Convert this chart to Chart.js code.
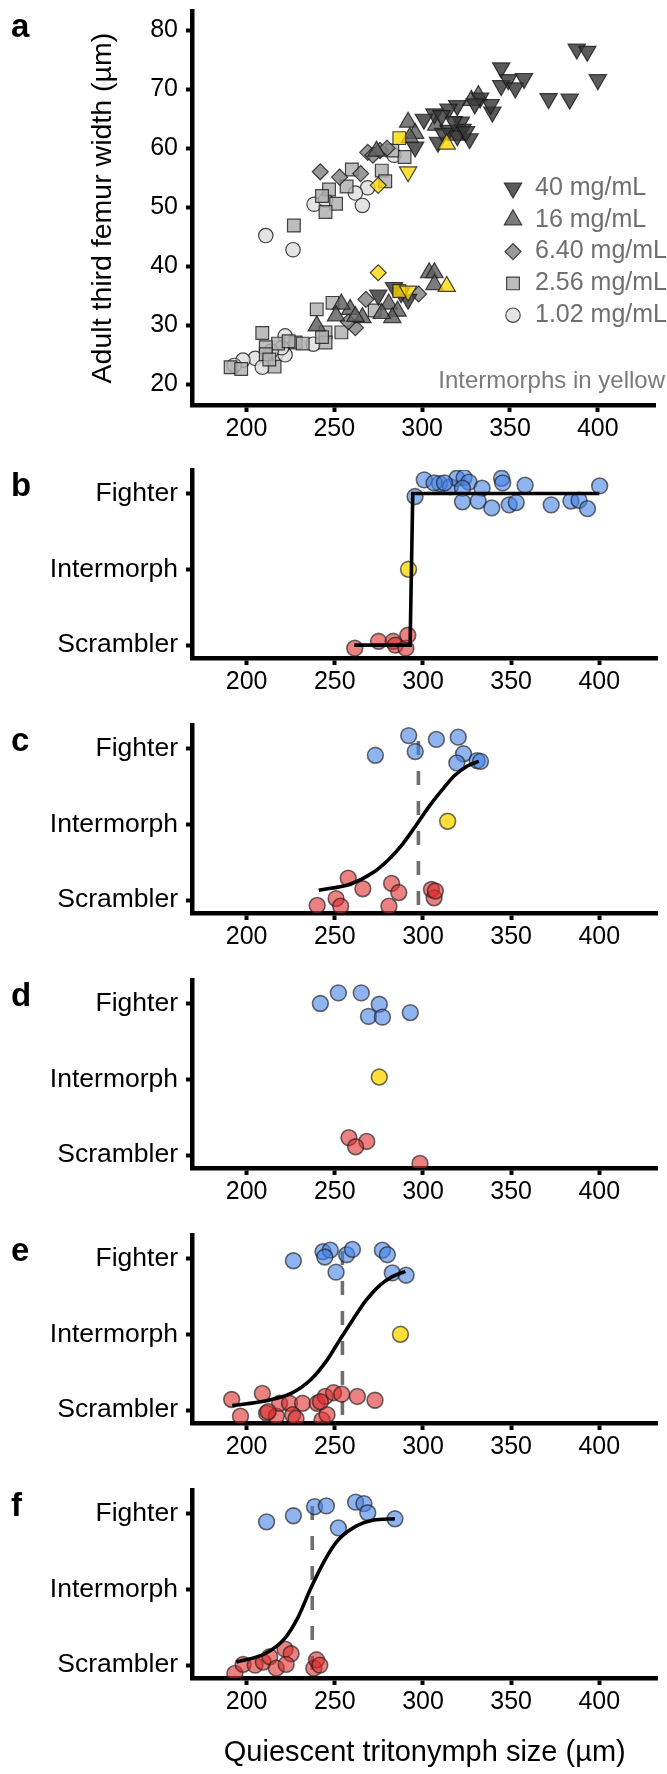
<!DOCTYPE html>
<html>
<head>
<meta charset="utf-8">
<script src="https://cdn.jsdelivr.net/npm/chart.js@4/dist/chart.umd.min.js"></script>
<style>
  html, body { margin: 0; padding: 0; background: #fff; }
  #wrap { position: relative; width: 667px; height: 1774px; overflow: hidden; }
  .panel { position: absolute; left: 0; width: 667px; }
</style>
</head>
<body>
<div id="wrap">
  <div class="panel" style="top:0;height:440px"><canvas id="chartA"></canvas></div>
  <div class="panel" style="top:440px;height:255px"><canvas id="chartB"></canvas></div>
  <div class="panel" style="top:695px;height:255px"><canvas id="chartC"></canvas></div>
  <div class="panel" style="top:950px;height:255px"><canvas id="chartD"></canvas></div>
  <div class="panel" style="top:1205px;height:255px"><canvas id="chartE"></canvas></div>
  <div class="panel" style="top:1460px;height:314px"><canvas id="chartF"></canvas></div>
</div>
<script>
// shared axis
const X_MIN = 169, X_MAX = 433;
const X_TICKS = [200, 250, 300, 350, 400];
const X_TITLE = "Quiescent tritonymph size (µm)";

// panel a - femur width vs tritonymph size, by food concentration
const A_Y_TICKS = [20, 30, 40, 50, 60, 70, 80];
const A_Y_TITLE = "Adult third femur width (µm)";
const concLabels = ["40 mg/mL", "16 mg/mL", "6.40 mg/mL", "2.56 mg/mL", "1.02 mg/mL"];
const noteText = "Intermorphs in yellow";

const c40X = [388, 394, 400, 372, 384, 345, 345, 349, 353, 358, 340, 339, 320, 315, 307, 301, 322, 323, 315, 327, 320, 309, 296, 333, 330, 318, 312, 325, 311, 275, 284, 292, 288];
const c40Y = [76.8, 76.4, 71.6, 68.4, 68.3, 73.6, 70.6, 71.6, 70.2, 71.8, 66.1, 67.4, 67.2, 66.6, 65.8, 64.9, 64.4, 63.2, 63.0, 61.6, 62.1, 61.0, 60.2, 68.5, 67.5, 64.5, 62.5, 62.8, 65.5, 35.1, 36.4, 34.4, 35.5];
const c16X = [292, 296, 308, 332, 328, 319, 293, 274, 304, 307, 307, 281, 286, 283, 266, 259, 254, 251, 240, 277, 262];
const c16Y = [64.4, 62.5, 63.9, 68.9, 68.1, 62.2, 61.8, 59.5, 38.9, 38.9, 36.9, 33.6, 32.4, 31.3, 31.3, 32.7, 33.6, 31.6, 29.9, 32.0, 31.5];
const c6X = [242, 253, 265, 269, 272, 276, 280, 298, 268, 262, 258];
const c6Y = [56.0, 55.1, 55.7, 59.3, 58.8, 59.6, 60.0, 35.3, 34.4, 29.6, 30.6];
const c2X = [290, 277, 279, 283, 260, 257, 251, 247, 243, 245, 227, 273, 249, 240, 245, 254, 245, 228, 232, 209, 218, 211, 211, 191, 197, 216, 224, 213, 243];
const c2Y = [58.5, 56.2, 54.4, 59.6, 56.4, 53.5, 50.6, 53.0, 51.9, 49.2, 46.9, 32.5, 33.8, 32.7, 28.8, 28.8, 27.1, 27.1, 26.9, 28.7, 26.9, 26.3, 25.1, 22.9, 22.6, 23.0, 27.3, 24.2, 28.0];
const c1X = [284, 269, 262, 266, 238.5, 245, 211, 226.5, 238, 222, 217, 205, 198, 193, 209, 222, 220, 214];
const c1Y = [58.8, 53.3, 52.4, 50.3, 50.5, 51.2, 45.2, 42.8, 26.8, 28.2, 25.2, 24.4, 24.1, 23.2, 22.9, 25.0, 26.2, 25.6];

// intermorphs (yellow), by concentration
const i40X = [292, 292], i40Y = [56.0, 35.8];
const i16X = [314, 314], i16Y = [60.7, 36.6];
const i6X = [275, 275], i6Y = [53.7, 38.9];
const i2X = [287, 287], i2Y = [61.7, 35.8];

// panels b-f - morph (1 = Scrambler, 2 = Intermorph, 3 = Fighter), jittered
const MORPHS = ["Scrambler", "Intermorph", "Fighter"];

const bFighterX = [300.7, 295.5, 309.4, 315.5, 319.2, 323.3, 326.1, 322.4, 333.5, 344.6, 345.2, 357.9, 400.2, 322.4, 331.3, 339.0, 348.9, 352.9, 372.7, 383.9, 388.5, 393.3, 306.3, 312.2];
const bFighterY = [3.18, 2.96, 3.13, 3.09, 3.20, 3.21, 3.15, 3.07, 3.07, 3.20, 3.14, 3.11, 3.10, 2.89, 2.90, 2.81, 2.85, 2.88, 2.85, 2.90, 2.91, 2.80, 3.14, 3.14];
const bInterX = [291.8], bInterY = [2.0];
const bScramX = [261.3, 274.8, 283.1, 284.3, 290.3, 291.4];
const bScramY = [0.96, 1.05, 1.05, 1.0, 0.96, 1.13];
const bCurveX = [261, 292.7, 294.2, 400];
const bCurveY = [1, 1, 3, 3];

const cFighterX = [291.9, 295.6, 307.6, 320, 273, 323, 319.2, 330.7, 332.6];
const cFighterY = [3.17, 2.96, 3.12, 3.15, 2.91, 2.93, 2.81, 2.84, 2.83];
const cInterX = [314], cInterY = [2.04];
const cScramX = [240, 250.7, 253.3, 257.6, 265.9, 280.7, 282.2, 286.3, 304.8, 306.3, 307];
const cScramY = [0.93, 1.02, 0.92, 1.29, 1.15, 0.92, 1.22, 1.10, 1.14, 1.03, 1.12];
const cCurveX = [240.9, 258.5, 271.5, 280.7, 288.1, 295.6, 303, 310.4, 317.8, 325.2, 331.7];
const cCurveY = [1.13, 1.21, 1.36, 1.54, 1.73, 1.97, 2.22, 2.44, 2.64, 2.77, 2.83];
const cThreshold = 297.4;

const dFighterX = [241.8, 252, 265, 275.2, 269.1, 277, 292.8];
const dFighterY = [3.0, 3.14, 3.14, 2.99, 2.83, 2.82, 2.88];
const dInterX = [275.2], dInterY = [2.03];
const dScramX = [258, 268.1, 261.8, 298.3];
const dScramY = [1.23, 1.18, 1.11, 0.89];

const eFighterX = [226.5, 243.3, 247.4, 244.3, 256.7, 260, 250.7, 277, 279.8, 282.6, 290.4];
const eFighterY = [2.97, 3.09, 3.11, 3.02, 3.05, 3.12, 2.82, 3.11, 3.05, 2.81, 2.78];
const eInterX = [287.2], eInterY = [2.0];
const eScramX = [191.5, 196.5, 208.9, 211.3, 216.8, 218.7, 224.3, 226.1, 228, 231.7, 240, 242.8, 244.6, 245.6, 249.3, 253.9, 262.8, 272.8, 212.2, 241.8];
const eScramY = [1.14, 0.92, 1.22, 0.96, 0.92, 1.09, 1.09, 0.94, 0.89, 1.09, 1.09, 0.87, 1.18, 0.94, 1.23, 1.21, 1.18, 1.13, 0.98, 1.11];
const eCurveX = [191.8, 210.4, 225.2, 236.3, 245.6, 252.9, 260.4, 267.8, 275.2, 282.6, 290];
const eCurveY = [1.06, 1.12, 1.22, 1.40, 1.66, 1.93, 2.2, 2.45, 2.64, 2.76, 2.83];
const eThreshold = 254.3;

const fFighterX = [211.3, 226.5, 238.5, 245.2, 252, 261.8, 266.5, 268.7, 284.1];
const fFighterY = [2.89, 2.97, 3.09, 3.10, 2.81, 3.15, 3.13, 3.01, 2.93];
const fScramX = [193.3, 198, 204.8, 209.4, 213.1, 216.8, 221.8, 225.2, 222.4, 238.1, 239.6, 241.5];
const fScramY = [0.89, 1.01, 1.0, 1.04, 1.11, 0.96, 1.21, 1.15, 1.01, 0.96, 1.07, 1.0];
const fCurveX = [194.1, 210.4, 221.5, 228.9, 236.3, 243.7, 251.1, 260.4, 271.5, 284.1];
const fCurveY = [1.04, 1.15, 1.35, 1.62, 2.01, 2.36, 2.63, 2.81, 2.91, 2.93];
const fThreshold = 237.2;

// ---- styling ----
const FONT = "'Liberation Sans', Arial, Helvetica, sans-serif";
Chart.defaults.font.family = FONT;
Chart.defaults.color = "#000";
Chart.defaults.animation = false;
Chart.defaults.plugins.legend.display = false;
Chart.defaults.plugins.tooltip.enabled = false;

const MORPH_MIN = 0.83, MORPH_MAX = 3.31, DASH_TOP = 3.1;
const BLUE = "rgba(70,130,230,0.6)";
const RED = "rgba(222,45,45,0.6)";
const YELLOW = "rgba(255,215,0,0.78)";
const EDGE = "rgba(30,30,30,0.65)";

const xy = (xs, ys) => xs.map((x, i) => ({ x, y: ys[i] }));

// no extra room for half labels at the axis ends
function noPad(s) {
  s.paddingTop = 0; s.paddingBottom = 0; s.paddingLeft = 0; s.paddingRight = 0;
}

function xScale(height, withTitle) {
  return {
    type: "linear", min: X_MIN, max: X_MAX, z: 1,
    afterBuildTicks: s => { s.ticks = X_TICKS.map(v => ({ value: v })); },
    afterFit: s => { s.height = height; noPad(s); },
    border: { display: true, color: "#000", width: 4.5 },
    grid: { display: true, drawOnChartArea: false, drawTicks: true, tickLength: 7, tickWidth: 4, tickColor: "#000" },
    ticks: { font: { size: 25 }, color: "#000", padding: 2, maxRotation: 0 },
    title: withTitle
      ? { display: true, text: X_TITLE, font: { size: 29 }, color: "#000", padding: { top: 0, bottom: 4 } }
      : { display: false }
  };
}

function yBase(extra) {
  return Object.assign({
    type: "linear", z: 1,
    afterFit: s => { s.width = 192; noPad(s); },
    border: { display: true, color: "#000", width: 4.5 },
    grid: { display: true, drawOnChartArea: false, drawTicks: true, tickLength: 6, tickWidth: 4, tickColor: "#000" }
  }, extra);
}

// panel letter drawn at the top-left of each panel
const panelLetter = {
  id: "panelLetter",
  afterDraw(chart, args, opts) {
    const ctx = chart.ctx;
    ctx.save();
    ctx.font = `bold 33px ${FONT}`;
    ctx.fillStyle = "#000";
    ctx.textAlign = "left";
    ctx.textBaseline = "alphabetic";
    ctx.fillText(opts.text, 11, chart.chartArea.top + 26);
    ctx.restore();
  }
};

// legend for panel a, inside the plot on the right
const concLegend = {
  id: "concLegend",
  afterDraw(chart) {
    const ctx = chart.ctx;
    const sets = chart.data.datasets.filter(d => d.legendText);
    ctx.save();
    ctx.font = `25px ${FONT}`;
    ctx.textBaseline = "middle";
    sets.forEach((d, i) => {
      const y = 188 + i * 31.8;
      ctx.fillStyle = d.backgroundColor;
      ctx.strokeStyle = d.borderColor;
      ctx.lineWidth = d.borderWidth;
      Chart.helpers.drawPoint(ctx, {
        pointStyle: d.pointStyle, rotation: d.pointRotation || 0,
        radius: d.pointRadius, borderWidth: d.borderWidth
      }, 513, y);
      ctx.fillStyle = "#6f6f6f";
      ctx.textAlign = "left";
      ctx.fillText(d.legendText, 535, y);
    });
    ctx.font = `24px ${FONT}`;
    ctx.fillStyle = "#7a7a7a";
    ctx.textAlign = "right";
    ctx.fillText(noteText, 665, 381);
    ctx.restore();
  }
};

function shapeSet(xs, ys, style, fill, label) {
  return {
    data: xy(xs, ys), pointStyle: style.shape, pointRotation: style.rot || 0,
    pointRadius: style.r, backgroundColor: fill, borderColor: "rgba(25,25,25,0.8)",
    borderWidth: 1.2, legendText: label, order: label ? 1 : 0
  };
}

const DOWN = { shape: "triangle", rot: 180, r: 10 };
const UP = { shape: "triangle", r: 10 };
const DIAMOND = { shape: "rectRot", r: 8 };
const SQUARE = { shape: "rect", r: 9 };
const CIRCLE = { shape: "circle", r: 7.2 };

new Chart(document.getElementById("chartA"), {
  type: "scatter",
  data: {
    datasets: [
      shapeSet(c40X, c40Y, DOWN, "rgba(55,55,55,0.82)", concLabels[0]),
      shapeSet(c16X, c16Y, UP, "rgba(95,95,95,0.82)", concLabels[1]),
      shapeSet(c6X, c6Y, DIAMOND, "rgba(130,130,130,0.82)", concLabels[2]),
      shapeSet(c2X, c2Y, SQUARE, "rgba(175,175,175,0.82)", concLabels[3]),
      shapeSet(c1X, c1Y, CIRCLE, "rgba(222,222,222,0.82)", concLabels[4]),
      shapeSet(i40X, i40Y, DOWN, YELLOW),
      shapeSet(i16X, i16Y, UP, YELLOW),
      shapeSet(i6X, i6Y, DIAMOND, YELLOW),
      shapeSet(i2X, i2Y, SQUARE, YELLOW)
    ]
  },
  options: {
    responsive: true, maintainAspectRatio: false,
    layout: { padding: { top: 8, left: 0, right: 0, bottom: 0 } },
    scales: {
      x: xScale(35, false),
      y: yBase({
        min: 16.5, max: 83.2,
        afterBuildTicks: s => { s.ticks = A_Y_TICKS.map(v => ({ value: v })); },
        ticks: { font: { size: 25 }, color: "#000", padding: 8 },
        title: { display: true, text: A_Y_TITLE, font: { size: 28.5 }, color: "#000", padding: { top: 86, bottom: 0 } }
      })
    },
    plugins: { panelLetter: { text: "a" } }
  },
  plugins: [panelLetter, concLegend]
});

function dots(xs, ys, fill) {
  return { data: xy(xs, ys), pointRadius: 7.9, backgroundColor: fill, borderColor: EDGE, borderWidth: 1.6, order: 1 };
}

function morphChart(id, letter, p, xHeight, withTitle) {
  const datasets = [];
  if (p.curveX) {
    datasets.push({
      data: xy(p.curveX, p.curveY), showLine: true, pointRadius: 0,
      borderColor: "#000", borderWidth: 3.6, tension: 0,
      cubicInterpolationMode: p.step ? "default" : "monotone", order: 0
    });
  }
  if (p.threshold != null) {
    datasets.push({
      data: [{ x: p.threshold, y: DASH_TOP }, { x: p.threshold, y: MORPH_MIN }],
      showLine: true, pointRadius: 0, borderColor: "#6e6e6e", borderWidth: 3.6,
      borderDash: [14, 16], order: 2
    });
  }
  datasets.push(dots(p.fighterX, p.fighterY, BLUE));
  if (p.interX) datasets.push(dots(p.interX, p.interY, YELLOW));
  datasets.push(dots(p.scramX, p.scramY, RED));

  new Chart(document.getElementById(id), {
    type: "scatter",
    data: { datasets },
    options: {
      responsive: true, maintainAspectRatio: false,
      layout: { padding: { top: 30, left: 0, right: 0, bottom: 0 } },
      scales: {
        x: xScale(xHeight, withTitle),
        y: yBase({
          min: MORPH_MIN, max: MORPH_MAX,
          afterBuildTicks: s => { s.ticks = [1, 2, 3].map(v => ({ value: v })); },
          ticks: { font: { size: 26.5 }, color: "#000", padding: 8, callback: v => MORPHS[v - 1] }
        })
      },
      plugins: { panelLetter: { text: letter } }
    },
    plugins: [panelLetter]
  });
}

morphChart("chartB", "b", { fighterX: bFighterX, fighterY: bFighterY, interX: bInterX, interY: bInterY, scramX: bScramX, scramY: bScramY, curveX: bCurveX, curveY: bCurveY, step: true }, 37, false);
morphChart("chartC", "c", { fighterX: cFighterX, fighterY: cFighterY, interX: cInterX, interY: cInterY, scramX: cScramX, scramY: cScramY, curveX: cCurveX, curveY: cCurveY, threshold: cThreshold }, 37, false);
morphChart("chartD", "d", { fighterX: dFighterX, fighterY: dFighterY, interX: dInterX, interY: dInterY, scramX: dScramX, scramY: dScramY }, 37, false);
morphChart("chartE", "e", { fighterX: eFighterX, fighterY: eFighterY, interX: eInterX, interY: eInterY, scramX: eScramX, scramY: eScramY, curveX: eCurveX, curveY: eCurveY, threshold: eThreshold }, 37, false);
morphChart("chartF", "f", { fighterX: fFighterX, fighterY: fFighterY, scramX: fScramX, scramY: fScramY, curveX: fCurveX, curveY: fCurveY, threshold: fThreshold }, 96, true);
</script>
</body>
</html>
